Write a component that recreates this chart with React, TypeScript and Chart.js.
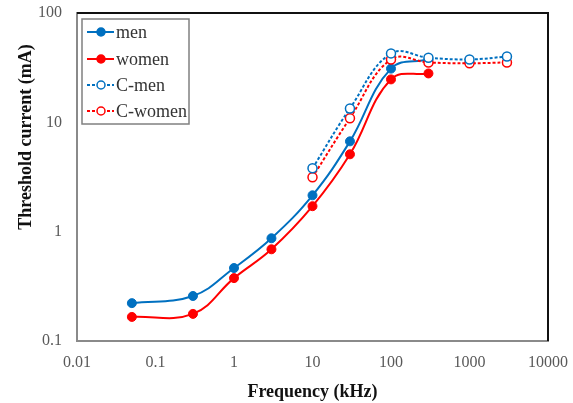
import React, { useEffect, useRef } from "react";
import { Chart, registerables } from "chart.js";

Chart.register(...registerables);

const freqMen = [0.05, 0.3, 1, 3, 10, 30, 100, 300];
const men = [0.222, 0.258, 0.465, 0.87, 2.15, 6.7, 31, 37.5];
const freqWomen = [0.05, 0.3, 1, 3, 10, 30, 100, 300];
const women = [0.166, 0.177, 0.376, 0.69, 1.71, 5.1, 24.7, 28];
const freqC = [10, 30, 100, 300, 1000, 3000];
const cMen = [3.8, 13.4, 42.7, 39, 37.6, 40];
const cWomen = [3.15, 10.9, 37.6, 35.3, 34.7, 35.3];
const xTicks = [0.01, 0.1, 1, 10, 100, 1000, 10000];
const yTicks = [0.1, 1, 10, 100];
const xTitle = "Frequency (kHz)";
const yTitle = "Threshold current (mA)";

const BLUE = "#0070C0";
const RED = "#FF0000";
const SERIF = "'Liberation Serif', 'Times New Roman', serif";

const pts = (xs: number[], ys: number[]) => xs.map((x, i) => ({ x, y: ys[i] }));

const zeroPad = (s: any) => {
  s.paddingLeft = 0;
  s.paddingRight = 0;
  s.paddingTop = 0;
  s.paddingBottom = 0;
};

const framePlugin = {
  id: "frame",
  afterDraw(chart: any) {
    const { ctx, chartArea: a } = chart;
    ctx.save();
    ctx.strokeStyle = "#111";
    ctx.lineWidth = 2;
    ctx.beginPath();
    ctx.moveTo(a.left, a.top);
    ctx.lineTo(a.right, a.top);
    ctx.lineTo(a.right, a.bottom);
    ctx.stroke();
    ctx.fillStyle = "#111";
    ctx.font = `bold 18px ${SERIF}`;
    ctx.textAlign = "center";
    ctx.textBaseline = "middle";
    ctx.translate(26, 137);
    ctx.rotate(-Math.PI / 2);
    ctx.fillText(yTitle, 0, 0);
    ctx.restore();

    ctx.save();
    const bx = 82, by = 19, bw = 107, bh = 105;
    ctx.fillStyle = "#fff";
    ctx.fillRect(bx, by, bw, bh);
    ctx.strokeStyle = "#808080";
    ctx.lineWidth = 1.5;
    ctx.strokeRect(bx, by, bw, bh);
    const rows = [32, 59, 85, 111];
    chart.data.datasets.forEach((ds: any, i: number) => {
      const y = rows[i];
      ctx.strokeStyle = ds.borderColor;
      ctx.lineWidth = 2;
      ctx.setLineDash(ds.borderDash || []);
      ctx.beginPath();
      ctx.moveTo(87, y);
      ctx.lineTo(114, y);
      ctx.stroke();
      ctx.setLineDash([]);
      ctx.beginPath();
      ctx.arc(101, y, 4, 0, Math.PI * 2);
      ctx.fillStyle = ds.pointBackgroundColor;
      ctx.fill();
      ctx.lineWidth = 1.5;
      ctx.strokeStyle = ds.pointBorderColor;
      ctx.stroke();
      ctx.fillStyle = "#333";
      ctx.font = `18px ${SERIF}`;
      ctx.textAlign = "left";
      ctx.textBaseline = "middle";
      ctx.fillText(ds.label, 116, y + 1);
    });
    ctx.restore();
  },
};

export default function App() {
  const ref = useRef<HTMLCanvasElement | null>(null);
  useEffect(() => {
    document.body.style.margin = "0";
    const canvas = ref.current;
    if (!canvas) return;
    const chart = new Chart(canvas, {
      type: "line",
      data: {
        datasets: [
          {
            label: "men",
            data: pts(freqMen, men),
            borderColor: BLUE,
            backgroundColor: BLUE,
            pointBackgroundColor: BLUE,
            pointBorderColor: BLUE,
            borderWidth: 2,
            pointRadius: 4.5,
            pointBorderWidth: 1,
            tension: 0.4,
            order: 2,
          },
          {
            label: "women",
            data: pts(freqWomen, women),
            borderColor: RED,
            backgroundColor: RED,
            pointBackgroundColor: RED,
            pointBorderColor: RED,
            borderWidth: 2,
            pointRadius: 4.5,
            pointBorderWidth: 1,
            tension: 0.4,
            order: 2,
          },
          {
            label: "C-men",
            data: pts(freqC, cMen),
            borderColor: BLUE,
            backgroundColor: "#fff",
            pointBackgroundColor: "#fff",
            pointBorderColor: BLUE,
            borderWidth: 2,
            borderDash: [3, 2],
            pointRadius: 4.5,
            pointBorderWidth: 1.5,
            tension: 0.4,
            order: 0,
          },
          {
            label: "C-women",
            data: pts(freqC, cWomen),
            borderColor: RED,
            backgroundColor: "#fff",
            pointBackgroundColor: "#fff",
            pointBorderColor: RED,
            borderWidth: 2,
            borderDash: [3, 2],
            pointRadius: 4.5,
            pointBorderWidth: 1.5,
            tension: 0.4,
            order: 1,
          },
        ],
      },
      options: {
        responsive: false,
        animation: false,
        layout: { padding: { top: 13, right: 25, left: 0, bottom: 0 } },
        plugins: { legend: { display: false }, tooltip: { enabled: false } },
        scales: {
          x: {
            type: "logarithmic",
            min: 0.01,
            max: 10000,
            afterBuildTicks: (s: any) => {
              s.ticks = xTicks.map((v) => ({ value: v }));
            },
            afterFit: (s: any) => {
              s.height = 62;
              zeroPad(s);
            },
            grid: { display: false, drawTicks: false },
            border: { display: true, color: "#8a8a8a", width: 2 },
            ticks: {
              padding: 12,
              color: "#595959",
              font: { family: SERIF, size: 16 },
              maxRotation: 0,
              autoSkip: false,
              callback: (v: any) => String(v),
            },
            title: {
              display: true,
              text: xTitle,
              color: "#111",
              font: { family: SERIF, size: 18, weight: "bold" },
              padding: { top: 0, bottom: 0 },
            },
          },
          y: {
            type: "logarithmic",
            min: 0.1,
            max: 100,
            afterBuildTicks: (s: any) => {
              s.ticks = yTicks.map((v) => ({ value: v }));
            },
            afterFit: (s: any) => {
              s.width = 77;
              zeroPad(s);
            },
            grid: { display: false, drawTicks: false },
            border: { display: true, color: "#8a8a8a", width: 2 },
            ticks: {
              padding: 15,
              color: "#595959",
              font: { family: SERIF, size: 16 },
              autoSkip: false,
              callback: (v: any) => String(v),
            },
          },
        },
      },
      plugins: [framePlugin],
    } as any);
    return () => chart.destroy();
  }, []);
  return (
    <div style={{ width: 573, height: 403 }}>
      <canvas ref={ref} width={573} height={403} />
    </div>
  );
}
